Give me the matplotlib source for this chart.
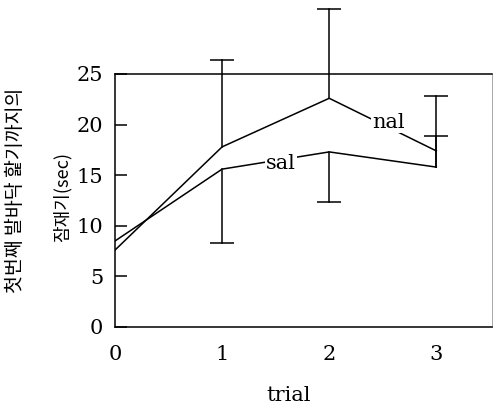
import matplotlib
matplotlib.use("Agg")
import matplotlib.pyplot as plt

trials = [0, 1, 2, 3]
nal = [7.6, 17.8, 22.6, 17.4]
sal = [8.5, 15.6, 17.3, 15.8]
# error bar ends
nal_err_up = [0, 8.6, 8.8, 5.4]
sal_err_down = [0, 7.3, 4.9, 0]
sal_err_up = [0, 0, 0, 3.1]
yticks = [0, 5, 10, 15, 20, 25]
xticks = [0, 1, 2, 3]

serif = ["DejaVu Serif"]
fig = plt.figure(figsize=(4.93, 4.07), dpi=100)
ax = fig.add_axes([0.2333, 0.1966, 0.7647, 0.6216])

lw = 1.1
cap = 17
ax.plot(trials, nal, color="black", lw=lw, zorder=2)
ax.plot(trials, sal, color="black", lw=lw, zorder=2)


def one_sided(x, y0, y1):
    ax.plot([x, x], [y0, y1], color="black", lw=lw, clip_on=False)
    ax.plot([x], [y1], marker="_", markersize=cap, markeredgewidth=lw,
            color="black", clip_on=False)


for i in range(1, len(trials)):
    if nal_err_up[i]:
        one_sided(trials[i], nal[i], nal[i] + nal_err_up[i])
    if sal_err_down[i]:
        one_sided(trials[i], sal[i], sal[i] - sal_err_down[i])
    if sal_err_up[i]:
        one_sided(trials[i], sal[i], sal[i] + sal_err_up[i])
        ax.plot([trials[i], trials[i]], [sal[i], nal[i]], color="black", lw=lw)

ax.text(2.55, 20.2, "nal", fontsize=15, family=serif, ha="center", va="center",
        bbox=dict(facecolor="white", edgecolor="none", pad=0.5), zorder=3)
ax.text(1.55, 16.2, "sal", fontsize=15, family=serif, ha="center", va="center",
        bbox=dict(facecolor="white", edgecolor="none", pad=0.5), zorder=3)

ax.set_xlim(0, 3.52)
ax.set_ylim(0, 25)
ax.set_yticks(yticks)
ax.set_xticks(xticks)
ax.set_yticklabels([str(v) for v in yticks], family=serif, fontsize=15)
ax.set_xticklabels([str(v) for v in xticks], family=serif, fontsize=15)
ax.tick_params(axis="y", direction="in", length=8.6, width=lw, pad=8.6)
ax.tick_params(axis="x", length=0, pad=13)

for s in ["left", "bottom", "top"]:
    ax.spines[s].set_linewidth(lw)
ax.spines["right"].set_linewidth(0.6)
ax.spines["right"].set_color("#999999")

ax.set_xlabel("trial", family=serif, fontsize=15)
ax.xaxis.set_label_coords(0.46, -0.235)

fig.text(0.032, 0.533, "첫번째 발바닥 핥기까지의", rotation=90, ha="center", va="center",
         family=["Noto Sans CJK KR", "DejaVu Sans"], fontsize=14)
fig.text(0.126, 0.516, "잠재기(sec)", rotation=90, ha="center", va="center",
         family=["Noto Sans CJK KR", "DejaVu Sans"], fontsize=13)

fig.savefig("out.png", dpi=100)
